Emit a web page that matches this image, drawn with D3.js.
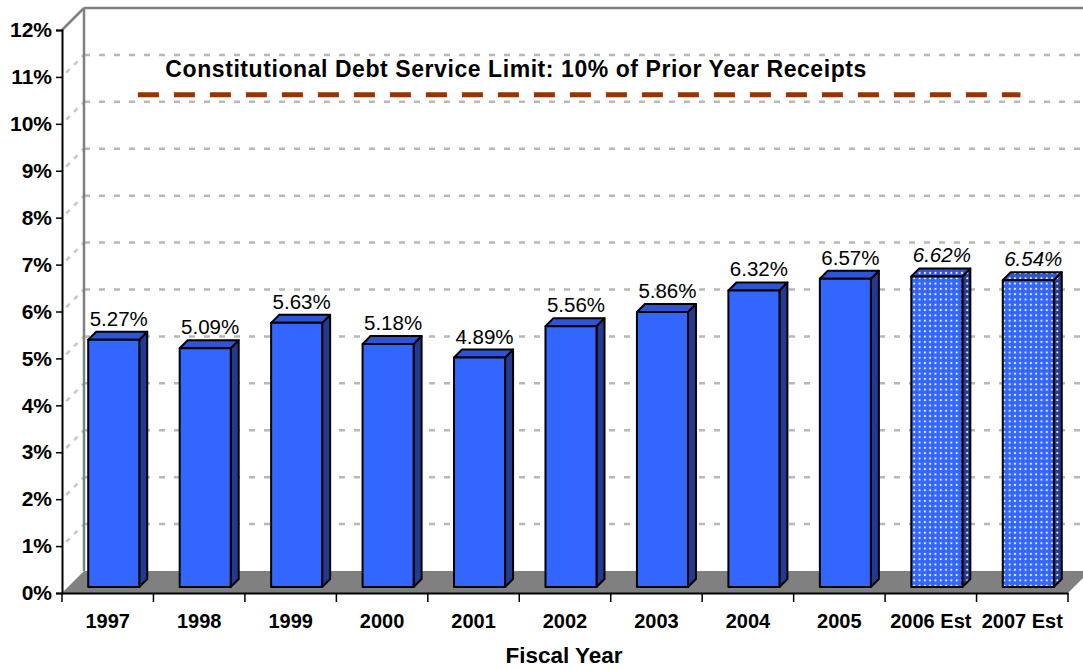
<!DOCTYPE html>
<html><head><meta charset="utf-8">
<script src="https://cdnjs.cloudflare.com/ajax/libs/d3/7.8.5/d3.min.js"></script>
<style>body{margin:0;background:#fff}svg{display:block;font-family:Arial,"Liberation Sans",sans-serif}</style>
</head><body>
<script>
const categories = ["1997","1998","1999","2000","2001","2002","2003","2004","2005","2006 Est","2007 Est"];
const values = [5.27,5.09,5.63,5.18,4.89,5.56,5.86,6.32,6.57,6.62,6.54];
const estimated = [false,false,false,false,false,false,false,false,false,true,true];
const yTickValues = [0,1,2,3,4,5,6,7,8,9,10,11,12];
const limitValue = 10;
const limitLabel = "Constitutional Debt Service Limit: 10% of Prior Year Receipts";
const xTitle = "Fiscal Year";

(function () {
const W = 1083, H = 669;
const svg = d3.select("body").append("svg").attr("width", W).attr("height", H);

const pL = 62, pR = 1068, pB = 593, pT = 30;
const DX = 22, DY = -22;           // full depth offset
const bF = 6, bB = 14;             // bar front/back depth offsets
const x = d3.scaleBand().domain(categories).range([pL, pR]).padding(0);
const y = d3.scaleLinear().domain([0, 12]).range([pB, pT]);
const bw = x.bandwidth() * 0.558;

const defs = svg.append("defs");
function dots(id, bg) {
  const p = defs.append("pattern").attr("id", id).attr("patternUnits", "userSpaceOnUse")
    .attr("width", 5.3).attr("height", 5.3);
  p.append("rect").attr("width", 5.3).attr("height", 5.3).attr("fill", bg);
  p.append("circle").attr("cx", 2.65).attr("cy", 2.65).attr("r", 1.1).attr("fill", "#ffffff").attr("opacity", 0.9);
}
dots("dotFront", "#3366ff");
dots("dotSide", "#223a8f");
dots("dotTop", "#2e55d6");

// floor
svg.append("polygon")
  .attr("points", [[pL, pB], [pR, pB], [pR + DX, pB + DY], [pL + DX, pB + DY]].join(" "))
  .attr("fill", "#808080");

// back wall gridlines
const gridVals = yTickValues.filter(v => v > 0 && v < 12);
svg.append("g").selectAll("line").data(gridVals).join("line")
  .attr("x1", pL + DX).attr("x2", W + 10)
  .attr("y1", d => y(d) + DY).attr("y2", d => y(d) + DY)
  .attr("stroke", "#b8b8b8").attr("stroke-width", 2.5).attr("stroke-dasharray", "6,9");
// side wall gridlines
svg.append("g").selectAll("line").data(gridVals).join("line")
  .attr("x1", pL).attr("x2", pL + DX)
  .attr("y1", d => y(d)).attr("y2", d => y(d) + DY)
  .attr("stroke", "#c8c8c8").attr("stroke-width", 2.5).attr("stroke-dasharray", "5,6").attr("stroke-dashoffset", -6);

// walls frame
svg.append("line").attr("x1", pL + DX).attr("x2", pL + DX).attr("y1", y(12) + DY).attr("y2", y(0) + DY)
  .attr("stroke", "#808080").attr("stroke-width", 2.5);
svg.append("line").attr("x1", pL + DX).attr("x2", W + 10).attr("y1", y(12) + DY).attr("y2", y(12) + DY)
  .attr("stroke", "#808080").attr("stroke-width", 2.5);
svg.append("line").attr("x1", pL).attr("x2", pL + DX).attr("y1", y(12)).attr("y2", y(12) + DY)
  .attr("stroke", "#808080").attr("stroke-width", 2.5);

// limit line
svg.append("line")
  .attr("x1", x(categories[0]) + x.bandwidth() * 0.83).attr("x2", x(categories[10]) + x.bandwidth() * 0.48)
  .attr("y1", y(limitValue) + DY - 7).attr("y2", y(limitValue) + DY - 7)
  .attr("stroke", "#993300").attr("stroke-width", 5).attr("stroke-dasharray", "21,15");
svg.append("text").attr("x", x(categories[0]) + x.bandwidth() * 1.13).attr("y", y(limitValue) + DY - 25)
  .attr("font-size", 23).attr("font-weight", "bold").attr("fill", "#000")
  .attr("textLength", 701).attr("lengthAdjust", "spacing").text(limitLabel);

// bars
const data = categories.map((c, i) => ({c, v: values[i], est: estimated[i]}));
const g = svg.append("g").attr("stroke", "#000").attr("stroke-width", 2).attr("stroke-linejoin", "round");
const dd = bB - bF;
data.forEach(d => {
  const x0 = x(d.c) + (x.bandwidth() - bw) / 2 + bF;
  const x1 = x0 + bw;
  const yb = y(0) - bF, yt = y(d.v) - bF;
  g.append("polygon").attr("points", [[x1, yb], [x1 + dd, yb - dd], [x1 + dd, yt - dd], [x1, yt]].join(" "))
    .attr("fill", d.est ? "url(#dotSide)" : "#223a8f");
  g.append("polygon").attr("points", [[x0, yt], [x1, yt], [x1 + dd, yt - dd], [x0 + dd, yt - dd]].join(" "))
    .attr("fill", d.est ? "url(#dotTop)" : "#2e55d6");
  g.append("rect").attr("x", x0).attr("y", yt).attr("width", bw).attr("height", yb - yt)
    .attr("fill", d.est ? "url(#dotFront)" : "#3366ff");
  svg.append("text").attr("x", (x0 + x1) / 2 + dd / 2 + 1).attr("y", yt - dd - 6)
    .attr("text-anchor", "middle").attr("font-size", 20.5)
    .attr("font-style", d.est ? "italic" : "normal").attr("fill", "#000")
    .text(d.v.toFixed(2) + "%");
});

// front y axis
const yAxis = svg.append("g").attr("transform", `translate(${pL},0)`)
  .call(d3.axisLeft(y).tickValues(yTickValues).tickSize(6).tickPadding(4).tickFormat(d => d + "%"));
yAxis.select(".domain").attr("stroke", "#000").attr("stroke-width", 2);
yAxis.selectAll(".tick line").attr("stroke", "#000").attr("stroke-width", 1.5);
yAxis.selectAll("text").attr("font-size", 21).attr("font-weight", "bold").attr("fill", "#000")
  .attr("font-family", "Arial, 'Liberation Sans', sans-serif");

// x axis
const xAxis = svg.append("g").attr("transform", `translate(0,${pB})`)
  .call(d3.axisBottom(x).tickSize(0).tickPadding(21));
xAxis.select(".domain").attr("stroke", "#000").attr("stroke-width", 2);
xAxis.selectAll("text").attr("font-size", 20).attr("font-weight", "bold").attr("fill", "#000")
  .attr("font-family", "Arial, 'Liberation Sans', sans-serif");
svg.append("g").selectAll("line").data(d3.range(categories.length + 1)).join("line")
  .attr("x1", i => pL + i * x.step()).attr("x2", i => pL + i * x.step())
  .attr("y1", pB).attr("y2", pB + 9).attr("stroke", "#000").attr("stroke-width", 1.5);

svg.append("text").attr("x", 564).attr("y", 663).attr("text-anchor", "middle")
  .attr("font-size", 22.5).attr("font-weight", "bold").attr("fill", "#000").text(xTitle);
})();
</script>
</body></html>
